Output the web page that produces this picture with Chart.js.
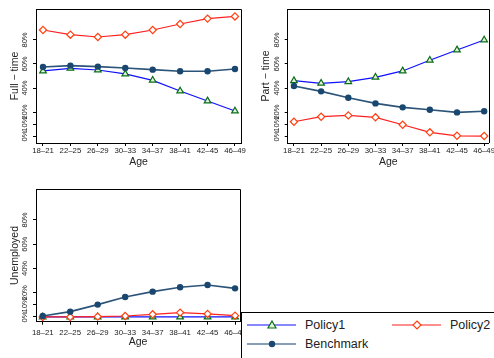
<!DOCTYPE html>
<html>
<head>
<meta charset="utf-8">
<script src="https://cdn.jsdelivr.net/npm/chart.js@4.4.1/dist/chart.umd.min.js"></script>
<style>
  body { margin: 0; background: #fff; }
  #wrap { position: relative; width: 494px; height: 358px; overflow: hidden; background: #fff;
          font-family: "Liberation Sans", Arial, sans-serif; color: #222; }
  #wrap canvas { position: absolute; }
  #legend { position: absolute; left: 241px; top: 312px; width: 260px; height: 52px;
            border: 1px solid #000; background: #fff; z-index: 2; }
  #legend .key { position: absolute; }
  #legend .txt { position: absolute; font-size: 12.5px; line-height: 14px; white-space: nowrap; }
</style>
</head>
<body>
<div id="wrap">
  <canvas id="full" width="247" height="170" style="left:0;top:0"></canvas>
  <canvas id="part" width="247" height="170" style="left:247px;top:0"></canvas>
  <canvas id="unemp" width="247" height="188" style="left:0;top:170px"></canvas>
  <div id="legend">
    <svg class="key" style="left:5px;top:5px" width="50" height="14">
      <line x1="0" y1="7" x2="49" y2="7" stroke="#1010ff" stroke-width="1.2"/>
      <polygon points="25,3 29,10 21,10" fill="#e4f2dc" stroke="#0b6e1a" stroke-width="1.2"/>
    </svg>
    <span class="txt" style="left:63px;top:5px">Policy1</span>
    <svg class="key" style="left:150px;top:5px" width="50" height="14">
      <line x1="0" y1="7" x2="49" y2="7" stroke="#ff2020" stroke-width="1.2"/>
      <polygon points="25,3 29,7 25,11 21,7" fill="#fff" stroke="#ff4010" stroke-width="1.2"/>
    </svg>
    <span class="txt" style="left:208px;top:5px">Policy2</span>
    <svg class="key" style="left:5px;top:24px" width="50" height="14">
      <line x1="0" y1="7" x2="49" y2="7" stroke="#5d7c9c" stroke-width="1.6"/>
      <circle cx="25" cy="7" r="3.2" fill="#1a476f"/>
    </svg>
    <span class="txt" style="left:63px;top:24px">Benchmark</span>
  </div>
</div>
<script>
// age groups on the x axis
const ageGroups = ['18–21', '22–25', '26–29', '30–33', '34–37', '38–41', '42–45', '46–49'];
const yTicks = [0, 10, 20, 40, 60, 80];

// share in full-time work (%)
const fullPolicy1 = [54.2, 56.4, 55.0, 51.7, 46.4, 37.5, 29.2, 20.8];
const fullPolicy2 = [88.3, 84.4, 82.5, 84.4, 88.3, 93.3, 97.8, 99.6];
const fullBenchmark = [57.5, 58.6, 57.8, 56.7, 55.3, 53.9, 53.9, 55.8];

// share in part-time work (%)
const partPolicy1 = [46.1, 43.9, 45.3, 48.9, 54.2, 63.1, 71.7, 80.0];
const partPolicy2 = [11.9, 16.1, 17.2, 15.6, 9.4, 3.1, 0.2, 0.0];
const partBenchmark = [41.7, 37.2, 31.9, 27.2, 23.9, 21.9, 19.7, 20.6];

// share unemployed (%)
const unempPolicy1 = [0, 0, 0, 0, 0, 0, 0, 0];
const unempPolicy2 = [0.0, 0.0, 0.3, 0.8, 2.2, 3.6, 2.5, 1.1];
const unempBenchmark = [0.8, 4.4, 10.2, 16.5, 20.9, 24.5, 26.4, 23.6];

Chart.defaults.font.family = '"Liberation Sans", Arial, sans-serif';
Chart.defaults.color = '#222';

const toPoints = vals => vals.map((v, i) => ({ x: i, y: v }));

// rotated y tick labels, y title and the box round the plot region
const panelText = {
  id: 'panelText',
  afterDraw(chart, args, o) {
    const { ctx, chartArea: a, scales: { y } } = chart;
    ctx.save();
    ctx.fillStyle = '#222';
    ctx.textAlign = 'center';
    ctx.textBaseline = 'middle';
    ctx.font = '7.6px "Liberation Sans", Arial, sans-serif';
    yTicks.forEach(v => {
      ctx.save();
      ctx.translate(a.left - 11, y.getPixelForValue(v));
      ctx.rotate(-Math.PI / 2);
      ctx.fillText(v + '%', 0, 0);
      ctx.restore();
    });
    ctx.font = '10.5px "Liberation Sans", Arial, sans-serif';
    ctx.translate(a.left - o.titleGap, (a.top + a.bottom) / 2);
    ctx.rotate(-Math.PI / 2);
    ctx.fillText(o.title, 0, 0);
    ctx.restore();

    ctx.save();
    ctx.strokeStyle = '#000';
    ctx.lineWidth = 1;
    ctx.beginPath();
    ctx.moveTo(a.left, Math.round(a.top) + 0.5);
    ctx.lineTo(Math.round(a.right) + 0.5, Math.round(a.top) + 0.5);
    ctx.lineTo(Math.round(a.right) + 0.5, a.bottom);
    ctx.stroke();
    ctx.restore();
  }
};

function makePanel(id, p1, p2, bm, g) {
  return new Chart(document.getElementById(id), {
    type: 'line',
    data: {
      datasets: [
        {
          label: 'Policy1', data: toPoints(p1), order: 2,
          borderColor: '#1010ff', borderWidth: 1.2,
          pointStyle: 'triangle', pointRadius: 3.8,
          pointBackgroundColor: '#e4f2dc', pointBorderColor: '#0b6e1a', pointBorderWidth: 1.2
        },
        {
          label: 'Policy2', data: toPoints(p2), order: 1,
          borderColor: '#ff2020', borderWidth: 1.2,
          pointStyle: 'rectRot', pointRadius: 3.6,
          pointBackgroundColor: '#fff', pointBorderColor: '#ff4010', pointBorderWidth: 1.2
        },
        {
          label: 'Benchmark', data: toPoints(bm), order: 0,
          borderColor: '#2c5478', borderWidth: 1.6,
          pointStyle: 'circle', pointRadius: 3.2,
          pointBackgroundColor: '#1a476f', pointBorderColor: '#1a476f', pointBorderWidth: 0
        }
      ]
    },
    options: {
      responsive: false,
      animation: false,
      events: [],
      layout: { padding: { left: 0, top: g.top, right: g.right, bottom: 0 } },
      plugins: {
        legend: { display: false },
        tooltip: { enabled: false },
        panelText: { title: g.title, titleGap: g.titleGap }
      },
      elements: { line: { tension: 0 } },
      scales: {
        x: {
          type: 'linear',
          min: g.xMin, max: g.xMax,
          afterBuildTicks: s => { s.ticks = ageGroups.map((_, i) => ({ value: i })); },
          afterFit: s => { s.height = g.xHeight; s.paddingLeft = 0; s.paddingRight = 0; },
          ticks: {
            font: { size: 7.8 }, color: '#222', padding: g.tickPad, maxRotation: 0,
            autoSkip: false, callback: v => ageGroups[Math.round(v)]
          },
          grid: { drawOnChartArea: false, drawTicks: true, tickLength: 3, color: '#000' },
          border: { display: true, color: '#000', width: 1 },
          title: { display: true, text: 'Age', font: { size: 10.5 }, color: '#222', padding: { top: 0, bottom: g.titlePad } }
        },
        y: {
          type: 'linear',
          min: g.yMin, max: g.yMax,
          afterBuildTicks: s => { s.ticks = yTicks.map(v => ({ value: v })); },
          afterFit: s => { s.width = g.yWidth; s.paddingTop = 0; s.paddingBottom = 0; },
          ticks: { display: false },
          grid: { drawOnChartArea: false, drawTicks: true, tickLength: 3, color: '#000' },
          border: { display: true, color: '#000', width: 1 }
        }
      }
    },
    plugins: [panelText]
  });
}

makePanel('full', fullPolicy1, fullPolicy2, fullBenchmark, {
  title: 'Full − time', titleGap: 21, top: 9, right: 6, yWidth: 36, xHeight: 27,
  xMin: -0.255, xMax: 7.22, yMin: -5.8, yMax: 105.8, tickPad: 0.5, titlePad: 1.5
});
makePanel('part', partPolicy1, partPolicy2, partBenchmark, {
  title: 'Part − time', titleGap: 22, top: 9, right: 2.3, yWidth: 40.7, xHeight: 27,
  xMin: -0.23, xMax: 7.17, yMin: -5.8, yMax: 105.8, tickPad: 0.5, titlePad: 1.5
});
makePanel('unemp', unempPolicy1, unempPolicy2, unempBenchmark, {
  title: 'Unemployed', titleGap: 21, top: 19.3, right: 7, yWidth: 36, xHeight: 36.3,
  xMin: -0.245, xMax: 7.18, yMin: -3.9, yMax: 105.3, tickPad: 3, titlePad: 9.7
});
</script>
</body>
</html>
